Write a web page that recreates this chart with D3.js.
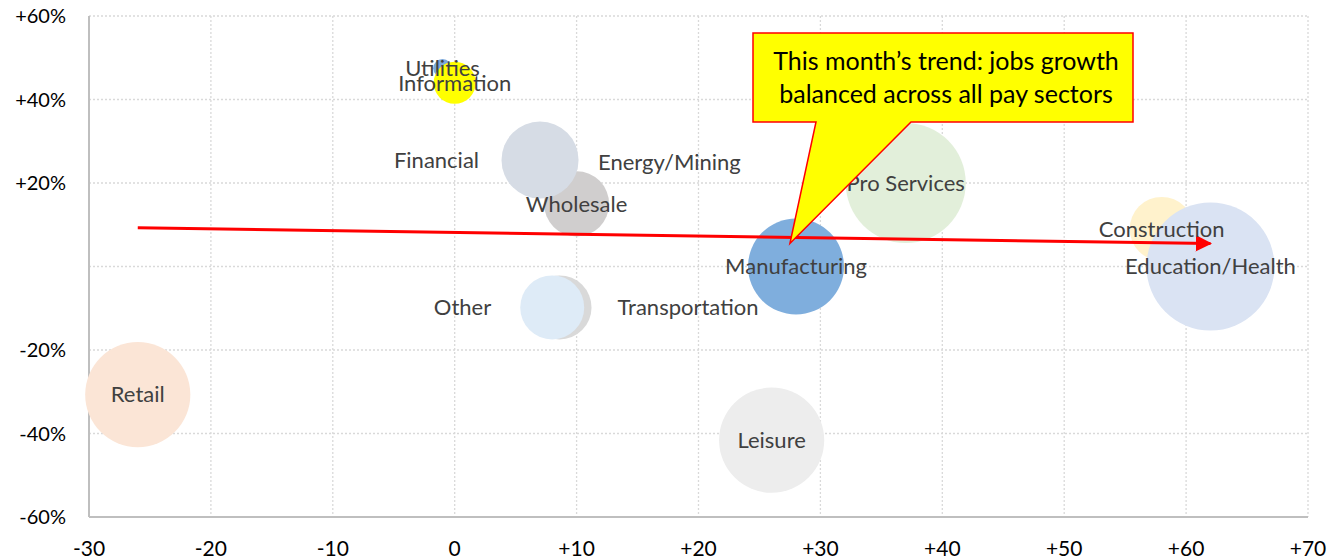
<!DOCTYPE html>
<html>
<head>
<meta charset="utf-8">
<script src="https://cdn.jsdelivr.net/npm/d3@7"></script>
<style>
  body { margin: 0; background: #fff; }
  svg text { font-family: Lato, "Open Sans", sans-serif; }
</style>
</head>
<body>
<div id="chart"></div>
<script>
// sectors in drawing order (later ones sit on top)
const sectors = ['Utilities', 'Information', 'Energy/Mining', 'Wholesale', 'Financial', 'Pro Services',
  'Construction', 'Education/Health', 'Manufacturing', 'Transportation', 'Other', 'Retail', 'Leisure'];
// jobs added this month (thousands)
const jobs = [-1, 0, 7, 10, 7, 37, 58, 62, 28, 8.6, 8, -26, 26];
// pay change vs average (%)
const pay = [47.5, 44, 25, 15, 25.5, 20, 9, 0, 0, -9.8, -9.8, -30.7, -41.6];
// sector employment (bubble size)
const employment = [0.5, 2.6, 0.7, 6.2, 8.7, 21.1, 6.0, 24, 13.5, 6.0, 6.0, 16.2, 16.2];

const xTicks = [-30, -20, -10, 0, 10, 20, 30, 40, 50, 60, 70];
const yTicks = [-60, -40, -20, 0, 20, 40, 60];

// trend arrow
const trendX = [-26, 62];
const trendY = [9.3, 5.5];

const calloutLines = ['This month\u2019s trend: jobs growth', 'balanced across all pay sectors'];
const calloutTip = [27.5, 5.5];

// styling
const colors = {
  'Utilities': '#7ba8da', 'Information': '#ffff00', 'Energy/Mining': '#d6dce5', 'Wholesale': '#d0cece',
  'Financial': '#d6dce5', 'Pro Services': '#e2efda', 'Construction': '#fff2cc', 'Education/Health': '#dae3f3',
  'Manufacturing': '#7faedd', 'Transportation': '#d9d9d9', 'Other': '#deebf7', 'Retail': '#fbe5d6', 'Leisure': '#ededed'
};
const labelSide = { 'Financial': 'left', 'Other': 'left', 'Energy/Mining': 'right', 'Transportation': 'right' };

const W = 1341, H = 560;
const m = { left: 89, right: 33, top: 16, bottom: 43 };

const svg = d3.select('#chart').append('svg').attr('width', W).attr('height', H);

const x = d3.scaleLinear().domain([-30, 70]).range([m.left, W - m.right]);
const y = d3.scaleLinear().domain([-60, 60]).range([H - m.bottom, m.top]);
const r = d3.scaleSqrt().domain([0, d3.max(employment)]).range([0, 64]);

// grid
svg.append('g').selectAll('line').data(xTicks.slice(1)).join('line')
  .attr('x1', d => x(d)).attr('x2', d => x(d)).attr('y1', y(60)).attr('y2', y(-60))
  .attr('stroke', '#d9d9d9').attr('stroke-width', 1.3).attr('stroke-dasharray', '2,2');
svg.append('g').selectAll('line').data(yTicks.slice(1)).join('line')
  .attr('x1', x(-30)).attr('x2', x(70)).attr('y1', d => y(d)).attr('y2', d => y(d))
  .attr('stroke', '#d9d9d9').attr('stroke-width', 1.3).attr('stroke-dasharray', '2,2');

// axes lines
svg.append('line').attr('x1', x(-30)).attr('x2', x(-30)).attr('y1', y(60)).attr('y2', y(-60))
  .attr('stroke', '#bfbfbf').attr('stroke-width', 2);
svg.append('line').attr('x1', x(-30)).attr('x2', x(70)).attr('y1', y(-60)).attr('y2', y(-60))
  .attr('stroke', '#bfbfbf').attr('stroke-width', 2);

const fmtX = d => d > 0 ? '+' + d : (d < 0 ? '-' + Math.abs(d) : '0');
const fmtY = d => d > 0 ? '+' + d + '%' : (d < 0 ? '-' + Math.abs(d) + '%' : '');

svg.append('g').selectAll('text').data(xTicks).join('text')
  .attr('x', d => x(d)).attr('y', y(-60) + 39)
  .attr('text-anchor', 'middle').attr('font-size', 21).attr('fill', '#000')
  .text(fmtX);
svg.append('g').selectAll('text').data(yTicks).join('text')
  .attr('x', m.left - 23).attr('y', d => y(d)).attr('dy', '0.35em')
  .attr('text-anchor', 'end').attr('font-size', 20).attr('fill', '#000')
  .text(fmtY);

// bubbles
const pts = sectors.map((s, i) => ({ name: s, x: jobs[i], y: pay[i], size: employment[i] }));

svg.append('g').selectAll('circle').data(pts).join('circle')
  .attr('cx', d => x(d.x)).attr('cy', d => y(d.y)).attr('r', d => r(d.size))
  .attr('fill', d => colors[d.name]);

// trend arrow
svg.append('defs').append('marker')
  .attr('id', 'arrow').attr('viewBox', '0 0 10 10').attr('refX', 9).attr('refY', 5)
  .attr('markerWidth', 5.5).attr('markerHeight', 5.5).attr('orient', 'auto')
  .append('path').attr('d', 'M0,0 L10,5 L0,10 z').attr('fill', '#ff0000');

svg.append('line')
  .attr('x1', x(trendX[0])).attr('y1', y(trendY[0]))
  .attr('x2', x(trendX[1])).attr('y2', y(trendY[1]))
  .attr('stroke', '#ff0000').attr('stroke-width', 3).attr('marker-end', 'url(#arrow)');

// labels
svg.append('g').selectAll('text').data(pts).join('text')
  .attr('x', d => {
    const side = labelSide[d.name];
    if (side === 'left') return x(d.x) - 61;
    if (side === 'right') return x(d.x) + 58;
    return x(d.x);
  })
  .attr('y', d => y(d.y)).attr('dy', '0.35em')
  .attr('text-anchor', d => labelSide[d.name] === 'left' ? 'end' : (labelSide[d.name] === 'right' ? 'start' : 'middle'))
  .attr('font-size', 22).attr('fill', '#404040')
  .text(d => d.name);

// callout
const bx0 = 753, bx1 = 1133, by0 = 33, by1 = 122;
const tx = x(calloutTip[0]), ty = y(calloutTip[1]);
const path = d3.path();
path.moveTo(bx0, by0);
path.lineTo(bx1, by0);
path.lineTo(bx1, by1);
path.lineTo(911, by1);
path.lineTo(tx, ty);
path.lineTo(816, by1);
path.lineTo(bx0, by1);
path.closePath();
svg.append('path').attr('d', path.toString())
  .attr('fill', '#ffff00').attr('stroke', '#ff0000').attr('stroke-width', 1.5);

svg.append('g').selectAll('text').data(calloutLines).join('text')
  .attr('x', (bx0 + bx1) / 2 + 3).attr('y', (d, i) => 70 + i * 33)
  .attr('text-anchor', 'middle').attr('font-size', 25).attr('fill', '#000')
  .text(d => d);
</script>
</body>
</html>
